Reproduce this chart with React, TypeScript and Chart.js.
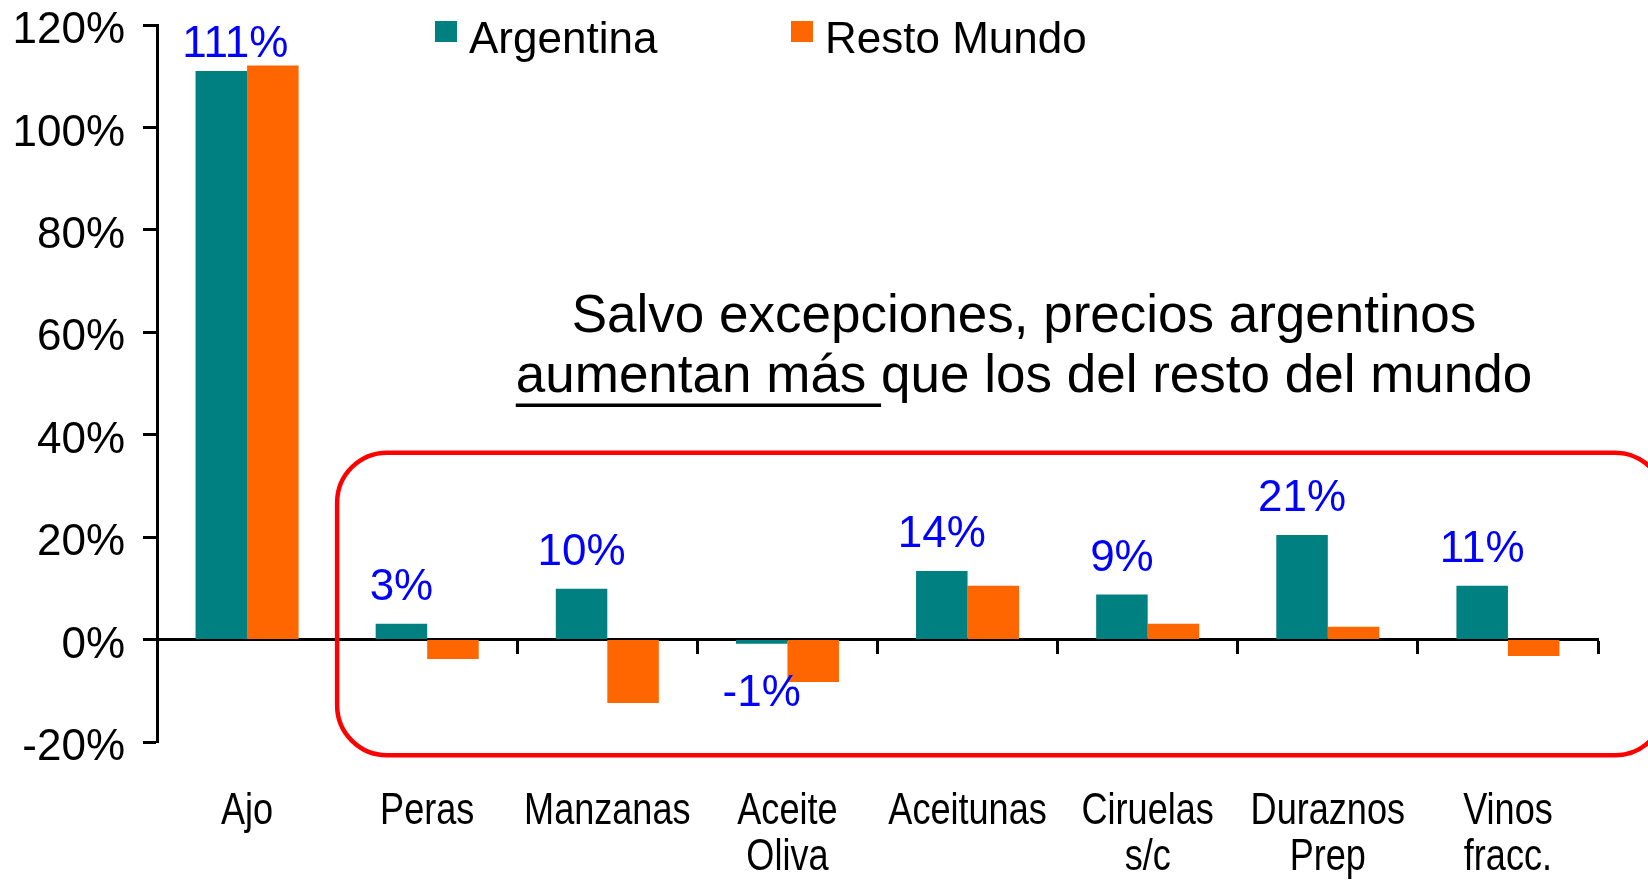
import React, { useEffect, useRef } from 'react';
import { Chart, registerables } from 'chart.js';

Chart.register(...registerables);

// ---- data ----
const categories: string[][] = [
  ['Ajo'],
  ['Peras'],
  ['Manzanas'],
  ['Aceite', 'Oliva'],
  ['Aceitunas'],
  ['Ciruelas', 's/c'],
  ['Duraznos', 'Prep'],
  ['Vinos', 'fracc.'],
];
const seriesNames = ['Argentina', 'Resto Mundo'];
const argentina = [111.0, 3.1, 9.9, -0.8, 13.4, 8.8, 20.4, 10.5];
const restoMundo = [112.1, -3.8, -12.4, -8.3, 10.5, 3.1, 2.5, -3.2];
const argentinaLabels = ['111%', '3%', '10%', '-1%', '14%', '9%', '21%', '11%'];
const yMin = -20;
const yMax = 120;
const yStep = 20;
const noteLine1 = 'Salvo excepciones, precios argentinos';
const noteLine2Underlined = 'aumentan más ';
const noteLine2Rest = 'que los del resto del mundo';
// red frame range (in y-axis units)
const frameTop = 36.5;
const frameBottom = -22.6;

// ---- styles ----
const TEAL = '#008080';
const ORANGE = '#FF6600';
const BLUE = '#0000FF';
const RED = '#FF0000';
const SANS = "'Liberation Sans', Arial, sans-serif";
const CONDENSE = 0.82; // narrow (Arial Narrow–like) category labels

const overlayPlugin = {
  id: 'overlay',
  afterDatasetsDraw(chart: any) {
    const ctx = chart.ctx;
    const meta = chart.getDatasetMeta(0);
    ctx.save();
    ctx.font = `44px ${SANS}`;
    ctx.fillStyle = BLUE;
    ctx.textAlign = 'center';
    ctx.textBaseline = 'middle';
    meta.data.forEach((el: any, i: number) => {
      const v = argentina[i];
      const { x, y } = el.getProps(['x', 'y'], true);
      let lx = x;
      let ly = v >= 0 ? y - 36 : y + 50;
      const minY = chart.chartArea.top + 20;
      if (ly < minY) {
        ly = minY;
        lx = x + 14;
      }
      ctx.fillText(argentinaLabels[i], lx, ly);
    });
    ctx.restore();
  },
  afterDraw(chart: any) {
    const ctx = chart.ctx;
    const xs = chart.scales.x;
    const ys = chart.scales.y;

    // category labels (narrow)
    ctx.save();
    ctx.font = `44px ${SANS}`;
    ctx.fillStyle = '#000';
    ctx.textAlign = 'center';
    ctx.textBaseline = 'alphabetic';
    const base = chart.chartArea.bottom + 82;
    (chart.data.labels as string[][]).forEach((lines, i) => {
      const px = xs.getPixelForValue(i);
      lines.forEach((line, j) => {
        ctx.save();
        ctx.translate(px, base + j * 46);
        ctx.scale(CONDENSE, 1);
        ctx.fillText(line, 0, 0);
        ctx.restore();
      });
    });
    ctx.restore();

    // rounded red frame
    const left = (xs.getPixelForValue(0) + xs.getPixelForValue(1)) / 2;
    const top = ys.getPixelForValue(frameTop);
    const bottom = ys.getPixelForValue(frameBottom);
    const right = chart.width + 17;
    const r = 50;
    ctx.save();
    ctx.strokeStyle = RED;
    ctx.lineWidth = 4.5;
    ctx.beginPath();
    ctx.moveTo(left + r, top);
    ctx.lineTo(right - r, top);
    ctx.arcTo(right, top, right, top + r, r);
    ctx.lineTo(right, bottom - r);
    ctx.arcTo(right, bottom, right - r, bottom, r);
    ctx.lineTo(left + r, bottom);
    ctx.arcTo(left, bottom, left, bottom - r, r);
    ctx.lineTo(left, top + r);
    ctx.arcTo(left, top, left + r, top, r);
    ctx.closePath();
    ctx.stroke();
    ctx.restore();

    // note text
    ctx.save();
    ctx.font = `53px ${SANS}`;
    ctx.fillStyle = '#000';
    ctx.textBaseline = 'alphabetic';
    const cx = 1024;
    ctx.textAlign = 'center';
    ctx.fillText(noteLine1, cx, 332);
    ctx.textAlign = 'left';
    const w1 = ctx.measureText(noteLine2Underlined).width;
    const w2 = ctx.measureText(noteLine2Rest).width;
    const sx = cx - (w1 + w2) / 2;
    ctx.fillText(noteLine2Underlined, sx, 392);
    ctx.fillText(noteLine2Rest, sx + w1, 392);
    ctx.fillRect(sx, 403.5, w1, 3.5);
    ctx.restore();

    // legend
    ctx.save();
    ctx.font = `44px ${SANS}`;
    ctx.textAlign = 'left';
    ctx.textBaseline = 'alphabetic';
    const itemX = [435, 791];
    chart.data.datasets.forEach((ds: any, i: number) => {
      const bx = itemX[i];
      ctx.fillStyle = ds.backgroundColor;
      ctx.fillRect(bx, 21, 22, 21);
      ctx.fillStyle = '#000';
      ctx.fillText(ds.label, bx + 34, 53);
    });
    ctx.restore();
  },
};

export default function App() {
  const ref = useRef<HTMLCanvasElement>(null);

  useEffect(() => {
    if (!ref.current) return;
    const chart = new Chart(ref.current, {
      type: 'bar',
      data: {
        labels: categories,
        datasets: [
          {
            label: seriesNames[0],
            data: argentina,
            backgroundColor: TEAL,
            borderWidth: 0,
            xAxisID: 'x',
            yAxisID: 'y',
          },
          {
            label: seriesNames[1],
            data: restoMundo,
            backgroundColor: ORANGE,
            borderWidth: 0,
            xAxisID: 'x',
            yAxisID: 'y',
          },
        ],
      },
      options: {
        animation: false,
        responsive: true,
        maintainAspectRatio: false,
        devicePixelRatio: 1,
        layout: { padding: { left: 0, right: 50, top: 25, bottom: 0 } },
        datasets: { bar: { categoryPercentage: 0.572, barPercentage: 1 } },
        plugins: {
          legend: { display: false },
          tooltip: { enabled: false },
          title: { display: false },
        },
        scales: {
          x: {
            type: 'category',
            position: 'bottom',
            offset: true,
            grid: { display: false, offset: true },
            border: { display: false },
            ticks: { display: false, autoSkip: false },
            afterFit: (s: any) => {
              s.height = 141;
              s.paddingLeft = 0;
              s.paddingRight = 0;
            },
          },
          x0: {
            type: 'category',
            axis: 'x',
            position: { y: 0 },
            offset: true,
            z: 1,
            grid: {
              offset: true,
              drawOnChartArea: false,
              drawTicks: true,
              tickLength: 13,
              tickWidth: 3,
              tickColor: '#000',
            },
            border: { display: true, color: '#000', width: 3 },
            ticks: { display: false },
          },
          y: {
            type: 'linear',
            min: yMin,
            max: yMax,
            ticks: {
              stepSize: yStep,
              callback: (v: any) => `${v}%`,
              font: { family: SANS, size: 44 },
              color: '#000',
              padding: 18,
              labelOffset: 6,
            },
            grid: {
              drawOnChartArea: false,
              drawTicks: true,
              tickLength: 14,
              tickWidth: 3,
              tickColor: '#000',
            },
            border: { display: true, color: '#000', width: 3 },
            afterFit: (s: any) => {
              s.width = 157;
              s.paddingTop = 0;
              s.paddingBottom = 0;
            },
          },
        } as any,
      },
      plugins: [overlayPlugin],
    });
    return () => chart.destroy();
  }, []);

  return (
    <div style={{ position: 'absolute', left: 0, top: 0, width: 1648, height: 883, background: '#fff' }}>
      <canvas ref={ref} />
    </div>
  );
}
